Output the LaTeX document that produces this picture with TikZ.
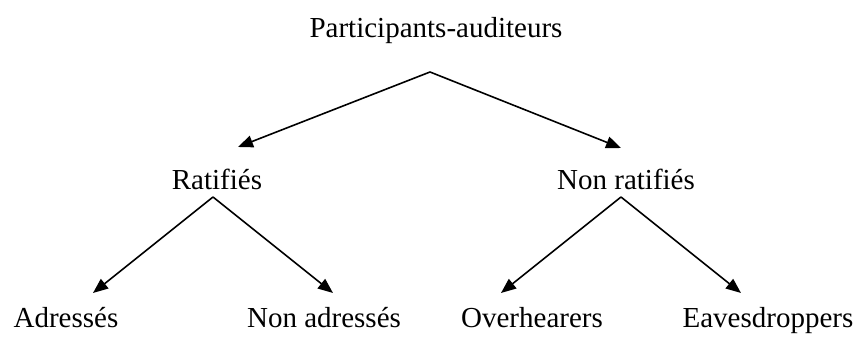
\documentclass[tikz,border=0pt]{standalone}
\usepackage{fontspec}
\setmainfont{Liberation Serif}
\usetikzlibrary{arrows.meta}
\begin{document}
\begin{tikzpicture}[x=1pt,y=1pt,
		lab/.style={inner sep=0pt,anchor=base,font=\fontsize{29}{33}\selectfont},
		arr/.style={line width=1.6pt,-{Triangle[length=15pt,width=12pt]}}]
		\useasboundingbox (0,0) rectangle (856,344);
		\node [lab] (0) at (436,306) {Participants-auditeurs};
		\node [lab] (1) at (217,154) {Ratifiés};
		\node [lab] (2) at (626,154) {Non ratifiés};
		\node [lab] (3) at (66,16) {Adressés};
		\node [lab] (4) at (324,16) {Non adressés};
		\node [lab] (5) at (532,16) {Overhearers};
		\node [lab] (6) at (768,16) {Eavesdroppers};
		\draw [arr] ([shift={(-6,-34)}]0.base) -- ([shift={(21,43)}]1.base);
		\draw [arr] ([shift={(-6,-34)}]0.base) -- ([shift={(-5,42)}]2.base);
		\draw [arr] ([shift={(-4,-7)}]1.base) -- ([shift={(27,35)}]3.base);
		\draw [arr] ([shift={(-4,-7)}]1.base) -- ([shift={(9,35)}]4.base);
		\draw [arr] ([shift={(-5,-7)}]2.base) -- ([shift={(-31,35)}]5.base);
		\draw [arr] ([shift={(-5,-7)}]2.base) -- ([shift={(-27,35)}]6.base);
	\end{tikzpicture}
\end{document}
